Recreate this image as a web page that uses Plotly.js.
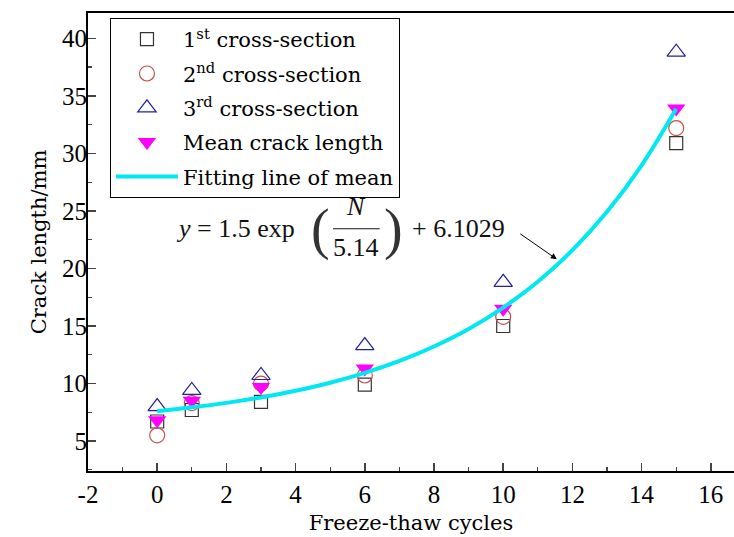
<!DOCTYPE html>
<html>
<head>
<meta charset="utf-8">
<script src="https://cdn.plot.ly/plotly-3.0.1.min.js"></script>
<style>html,body{margin:0;padding:0;background:#fff;}#chart{width:734px;height:537px;}</style>
</head>
<body>
<div id="chart"></div>
<script>
// Data
const cycles = [0, 1, 3, 6, 10, 15];
const crossSection1 = [6.7, 7.7, 8.4, 9.9, 15.0, 30.9];
const crossSection2 = [5.5, 8.3, 10.0, 10.7, 15.8, 32.2];
const crossSection3 = [8.0, 9.4, 10.7, 13.3, 18.8, 38.8];
const meanLength = [6.8, 8.5, 9.7, 11.3, 16.5, 33.9];
// Fitting line of mean
const fitCycles = [0, 1, 2, 3, 4, 5, 6, 7, 8, 9, 10, 11, 12, 13, 14, 15];
const fitLength = [7.60, 7.93, 8.32, 8.79, 9.37, 10.07, 10.92, 11.96, 13.22, 14.74, 16.60, 18.85, 21.59, 24.92, 28.96, 33.87];
// Tick labels
const xTickVals = [-2, 0, 2, 4, 6, 8, 10, 12, 14, 16];
const xTickText = ['-2', '0', '2', '4', '6', '8', '10', '12', '14', '16'];
const yTickVals = [5, 10, 15, 20, 25, 30, 35, 40];
const yTickText = ['5', '10', '15', '20', '25', '30', '35', '40'];

const names = ['1<sup>st</sup> cross-section', '2<sup>nd</sup> cross-section', '3<sup>rd</sup> cross-section', 'Mean crack length', 'Fitting line of mean'];

const SERIF = '"Liberation Serif", serif';
const WIDE = '"DejaVu Serif", serif';

const traces = [
  {x: cycles, y: crossSection1, mode: 'markers', type: 'scatter', name: names[0], legendgroup: 'a',
   marker: {symbol: 'square-open', size: 13, color: '#333333', line: {width: 1.2}}},
  {x: cycles, y: crossSection2, mode: 'markers', type: 'scatter', name: names[1], legendgroup: 'b',
   marker: {symbol: 'circle-open', size: 15, color: '#c8504a', line: {width: 1.2}}},
  {x: cycles, y: crossSection3, mode: 'markers', type: 'scatter', name: names[2], legendgroup: 'c',
   marker: {symbol: 'triangle-up-open', size: 16, color: '#22229a', line: {width: 1.2}}},
  {x: cycles, y: meanLength, mode: 'markers', type: 'scatter', name: names[3], legendgroup: 'd',
   marker: {symbol: 'triangle-down', size: 16, color: '#ff00ff', line: {width: 0}}},
  {x: fitCycles, y: fitLength, mode: 'lines', type: 'scatter', name: names[4], legendgroup: 'e',
   line: {color: '#00e8f0', width: 4, shape: 'spline'}}
];

const eqFont = {family: SERIF, size: 26, color: '#111'};
const parFont = {family: SERIF, size: 56, color: '#333'};
const layout = {
  width: 734, height: 537,
  margin: {l: 88, r: 0, t: 13, b: 66},
  paper_bgcolor: '#fff', plot_bgcolor: '#fff',
  font: {family: WIDE, size: 20, color: '#000'},
  showlegend: true,
  legend: {x: 0.034, y: 0.989, xanchor: 'left', yanchor: 'top',
           bgcolor: '#fff', bordercolor: '#000', borderwidth: 1,
           font: {family: WIDE, size: 21, color: '#000'}, tracegroupgap: 4, itemwidth: 62},
  xaxis: {range: [-2, 16.67], tickmode: 'array', tickvals: xTickVals, ticktext: xTickText,
          ticks: 'inside', ticklen: 8, tickwidth: 1.5,
          showline: true, linewidth: 2, linecolor: '#000', mirror: true, showgrid: false, zeroline: false,
          minor: {ticks: 'inside', ticklen: 4, dtick: 1, tick0: 0, tickwidth: 1.2, showgrid: false},
          tickfont: {family: SERIF, size: 25, color: '#000'},
          title: {text: 'Freeze-thaw cycles', font: {family: WIDE, size: 21, color: '#000'}, standoff: 8}},
  yaxis: {range: [2.4, 42.2], tickmode: 'array', tickvals: yTickVals, ticktext: yTickText,
          ticks: 'inside', ticklen: 8, tickwidth: 1.5, ticklabelstandoff: -6,
          showline: true, linewidth: 2, linecolor: '#000', mirror: true, showgrid: false, zeroline: false,
          minor: {ticks: 'inside', ticklen: 4, dtick: 2.5, tick0: 0, tickwidth: 1.2, showgrid: false},
          tickfont: {family: SERIF, size: 25, color: '#000'},
          title: {text: 'Crack length/mm', font: {family: WIDE, size: 21, color: '#000'}, standoff: 10}},
  annotations: [
    {x: 2.25, y: 23.5, xref: 'x', yref: 'y', text: '<i>y</i> = 1.5 exp', showarrow: false, font: eqFont},
    {x: 4.72, y: 23.4, xref: 'x', yref: 'y', text: '(', showarrow: false, font: parFont},
    {x: 5.75, y: 25.4, xref: 'x', yref: 'y', text: '<i>N</i>', showarrow: false, font: eqFont},
    {x: 5.75, y: 21.8, xref: 'x', yref: 'y', text: '5.14', showarrow: false, font: eqFont},
    {x: 6.83, y: 23.4, xref: 'x', yref: 'y', text: ')', showarrow: false, font: parFont},
    {x: 8.72, y: 23.5, xref: 'x', yref: 'y', text: '+ 6.1029', showarrow: false, font: eqFont},
    {x: 11.55, y: 20.8, xref: 'x', yref: 'y', ax: 10.45, ay: 23.1, axref: 'x', ayref: 'y', text: '',
     showarrow: true, arrowhead: 2, arrowsize: 1.2, arrowwidth: 1, arrowcolor: '#000'}
  ],
  shapes: [
    {type: 'line', xref: 'x', yref: 'y', x0: 5.08, x1: 6.43, y0: 23.45, y1: 23.45, line: {color: '#111', width: 1.2}}
  ]
};

Plotly.newPlot('chart', traces, layout, {displayModeBar: false, staticPlot: true});
</script>
</body>
</html>
